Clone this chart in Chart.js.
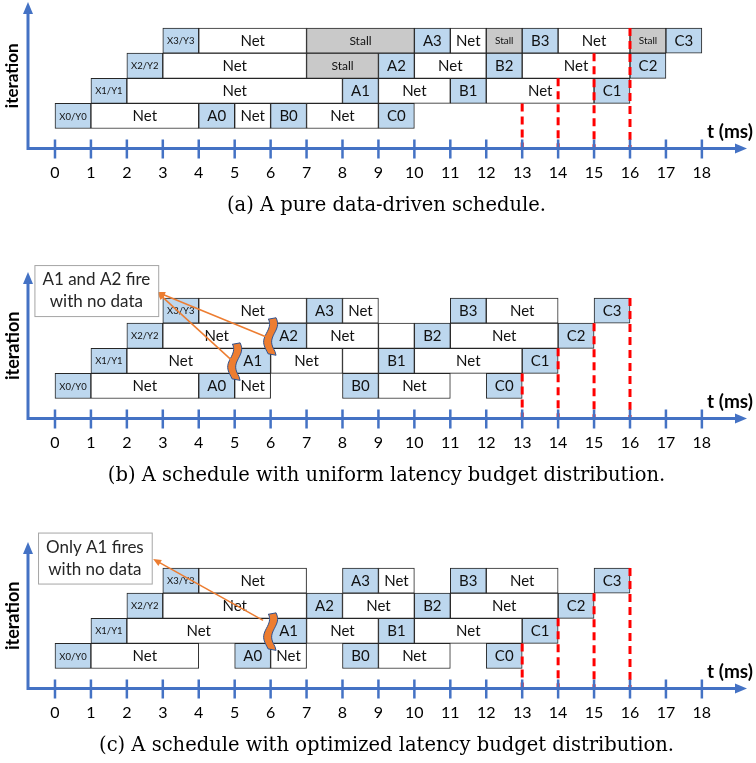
<!DOCTYPE html>
<html>
<head>
<meta charset="utf-8">
<script src="https://cdn.jsdelivr.net/npm/chart.js@4.4.1/dist/chart.umd.min.js"></script>
<style>
  body { margin: 0; background: #fff; }
  canvas { display: block; }
</style>
</head>
<body>
<canvas id="chartA" width="756" height="240"></canvas>
<canvas id="chartB" width="756" height="270"></canvas>
<canvas id="chartC" width="756" height="253"></canvas>
<script>
const timeTicks = [0, 1, 2, 3, 4, 5, 6, 7, 8, 9, 10, 11, 12, 13, 14, 15, 16, 17, 18];
const iterations = [0, 1, 2, 3];
const deadlineT = [13, 14, 15, 16];
const deadlineFrom = [0.5, 1.5, 2.5, 3.5];

// [iteration, label, start, end, kind]
const scheduleA = [
  [0, 'X0/Y0', 0, 1, 'io'], [0, 'Net', 1, 4, 'net'], [0, 'A0', 4, 5, 'op'], [0, 'Net', 5, 6, 'net'],
  [0, 'B0', 6, 7, 'op'], [0, 'Net', 7, 9, 'net'], [0, 'C0', 9, 10, 'op'],
  [1, 'X1/Y1', 1, 2, 'io'], [1, 'Net', 2, 8, 'net'], [1, 'A1', 8, 9, 'op'], [1, 'Net', 9, 11, 'net'],
  [1, 'B1', 11, 12, 'op'], [1, 'Net', 12, 15, 'net'], [1, 'C1', 15, 16, 'op'],
  [2, 'X2/Y2', 2, 3, 'io'], [2, 'Net', 3, 7, 'net'], [2, 'Stall', 7, 9, 'stall'], [2, 'A2', 9, 10, 'op'],
  [2, 'Net', 10, 12, 'net'], [2, 'B2', 12, 13, 'op'], [2, 'Net', 13, 16, 'net'], [2, 'C2', 16, 17, 'op'],
  [3, 'X3/Y3', 3, 4, 'io'], [3, 'Net', 4, 7, 'net'], [3, 'Stall', 7, 10, 'stall'], [3, 'A3', 10, 11, 'op'],
  [3, 'Net', 11, 12, 'net'], [3, 'Stall', 12, 13, 'stall'], [3, 'B3', 13, 14, 'op'], [3, 'Net', 14, 16, 'net'],
  [3, 'Stall', 16, 17, 'stall'], [3, 'C3', 17, 18, 'op']
];

const scheduleB = [
  [0, 'X0/Y0', 0, 1, 'io'], [0, 'Net', 1, 4, 'net'], [0, 'A0', 4, 5, 'op'], [0, 'Net', 5, 6, 'net'],
  [0, 'B0', 8, 9, 'op'], [0, 'Net', 9, 11, 'net'], [0, 'C0', 12, 13, 'op'],
  [1, 'X1/Y1', 1, 2, 'io'], [1, 'Net', 2, 5, 'net'], [1, 'A1', 5, 6, 'op'], [1, 'Net', 6, 8, 'net'],
  [1, '', 8, 9, 'idle'], [1, 'B1', 9, 10, 'op'], [1, 'Net', 10, 13, 'net'], [1, 'C1', 13, 14, 'op'],
  [2, 'X2/Y2', 2, 3, 'io'], [2, 'Net', 3, 6, 'net'], [2, 'A2', 6, 7, 'op'], [2, 'Net', 7, 9, 'net'],
  [2, '', 9, 10, 'idle'], [2, 'B2', 10, 11, 'op'], [2, 'Net', 11, 14, 'net'], [2, 'C2', 14, 15, 'op'],
  [3, 'X3/Y3', 3, 4, 'io'], [3, 'Net', 4, 7, 'net'], [3, 'A3', 7, 8, 'op'], [3, 'Net', 8, 9, 'net'],
  [3, 'B3', 11, 12, 'op'], [3, 'Net', 12, 14, 'net'], [3, 'C3', 15, 16, 'op']
];

const scheduleC = [
  [0, 'X0/Y0', 0, 1, 'io'], [0, 'Net', 1, 4, 'net'], [0, 'A0', 5, 6, 'op'], [0, 'Net', 6, 7, 'net'],
  [0, 'B0', 8, 9, 'op'], [0, 'Net', 9, 11, 'net'], [0, 'C0', 12, 13, 'op'],
  [1, 'X1/Y1', 1, 2, 'io'], [1, 'Net', 2, 6, 'net'], [1, 'A1', 6, 7, 'op'], [1, 'Net', 7, 9, 'net'],
  [1, 'B1', 9, 10, 'op'], [1, 'Net', 10, 13, 'net'], [1, 'C1', 13, 14, 'op'],
  [2, 'X2/Y2', 2, 3, 'io'], [2, 'Net', 3, 7, 'net'], [2, 'A2', 7, 8, 'op'], [2, 'Net', 8, 10, 'net'],
  [2, 'B2', 10, 11, 'op'], [2, 'Net', 11, 14, 'net'], [2, 'C2', 14, 15, 'op'],
  [3, 'X3/Y3', 3, 4, 'io'], [3, 'Net', 4, 7, 'net'], [3, 'A3', 8, 9, 'op'], [3, 'Net', 9, 10, 'net'],
  [3, 'B3', 11, 12, 'op'], [3, 'Net', 12, 14, 'net'], [3, 'C3', 15, 16, 'op']
];

// break marks [t, iteration], arrows [fromT, fromIter, toT, toIter]
const breaksB = [[5, 1], [6, 2]];
const breaksC = [[6, 1]];
const arrowsB = [[4.92, 1.02, 2.84, 3.74], [5.9, 1.94, 2.84, 3.74]];
const arrowsC = [[5.79, 1.42, 2.73, 3.86]];
const noteB = ['A1 and A2 fire', 'with no data'];
const noteC = ['Only A1 fires', 'with no data'];
const noteAtB = [1.15, 3.8];
const noteAtC = [1.11, 3.9];

const captionA = '(a) A pure data-driven schedule.';
const captionB = '(b) A schedule with uniform latency budget distribution.';
const captionC = '(c) A schedule with optimized latency budget distribution.';

const fills = { io: '#BDD7EE', op: '#BDD7EE', net: '#FFFFFF', stall: '#C9C9C9', idle: '#FFFFFF' };
const axisBlue = '#4472C4';
const orange = '#ED7D31';
const Y_MIN = -1.3, Y_MAX = 4.46;

function drawBreak(ctx, cx, cy) {
  const h = 36, w = 8, n = 16;
  const off = s => 3 * Math.sin(2 * Math.PI * s + 0.5);
  ctx.beginPath();
  for (let i = 0; i <= n; i++) {
    const s = i / n;
    const px = cx - w / 2 + off(s), py = cy - h / 2 + s * h;
    if (i === 0) ctx.moveTo(px, py + 1.5); else ctx.lineTo(px, py);
  }
  for (let i = n; i >= 0; i--) {
    const s = i / n;
    const px = cx + w / 2 + off(s), py = cy - h / 2 + s * h;
    ctx.lineTo(px, i === n ? py + 1.5 : py);
  }
  ctx.closePath();
  ctx.fillStyle = orange;
  ctx.fill();
  ctx.strokeStyle = '#2F528F';
  ctx.lineWidth = 1;
  ctx.stroke();
}

function drawArrow(ctx, x0, y0, x1, y1) {
  const a = Math.atan2(y1 - y0, x1 - x0), L = 8, W = 3.5;
  ctx.strokeStyle = orange;
  ctx.fillStyle = orange;
  ctx.lineWidth = 1.5;
  ctx.beginPath();
  ctx.moveTo(x0, y0);
  ctx.lineTo(x1 - Math.cos(a) * L * 0.8, y1 - Math.sin(a) * L * 0.8);
  ctx.stroke();
  ctx.beginPath();
  ctx.moveTo(x1, y1);
  ctx.lineTo(x1 - Math.cos(a) * L - Math.sin(a) * W, y1 - Math.sin(a) * L + Math.cos(a) * W);
  ctx.lineTo(x1 - Math.cos(a) * L + Math.sin(a) * W, y1 - Math.sin(a) * L - Math.cos(a) * W);
  ctx.closePath();
  ctx.fill();
}

function drawNote(ctx, cx, cy, lines) {
  ctx.font = '17px Lato';
  const w = Math.max(...lines.map(l => ctx.measureText(l).width)) + 16;
  const lh = 22, h = lines.length * lh + 7;
  ctx.fillStyle = '#fff';
  ctx.fillRect(cx - w / 2, cy - h / 2, w, h);
  ctx.strokeStyle = '#A5A5A5';
  ctx.lineWidth = 1;
  ctx.strokeRect(cx - w / 2 + 0.5, cy - h / 2 + 0.5, w, h);
  ctx.fillStyle = '#262626';
  ctx.textAlign = 'center';
  ctx.textBaseline = 'middle';
  lines.forEach((l, i) => ctx.fillText(l, cx, cy - (lines.length - 1) * lh / 2 + i * lh));
}

function overlay(extra) {
  return {
    id: 'overlay',
    afterDatasetsDraw(chart) {
      const ctx = chart.ctx;
      const xs = chart.scales.x, ys = chart.scales.y, area = chart.chartArea;
      const X = v => xs.getPixelForValue(v), Y = v => ys.getPixelForValue(v);
      ctx.save();

      // box labels
      const meta = chart.getDatasetMeta(0);
      const data = chart.data.datasets[0].data;
      ctx.textAlign = 'center';
      ctx.textBaseline = 'middle';
      ctx.fillStyle = '#111';
      meta.data.forEach((bar, i) => {
        const d = data[i];
        if (!d.label) return;
        const w = Math.abs(bar.x - bar.base);
        let size = 15;
        if (d.kind === 'io') size = 9.5;
        if (d.kind === 'stall') size = w > 40 ? 12 : 10;
        ctx.font = size + 'px Lato';
        ctx.fillText(d.label, (bar.x + bar.base) / 2, bar.y + 0.5);
      });

      // axes
      const ax = area.left, ay = area.bottom;
      ctx.strokeStyle = axisBlue;
      ctx.fillStyle = axisBlue;
      ctx.lineWidth = 3;
      ctx.beginPath();
      ctx.moveTo(ax, ay + 1.5);
      ctx.lineTo(ax, area.top + 8);
      ctx.moveTo(ax - 1.5, ay);
      ctx.lineTo(area.right - 8, ay);
      ctx.stroke();
      ctx.beginPath();
      ctx.moveTo(ax, area.top - 2);
      ctx.lineTo(ax - 5, area.top + 10);
      ctx.lineTo(ax + 5, area.top + 10);
      ctx.closePath();
      ctx.fill();
      ctx.beginPath();
      ctx.moveTo(area.right + 2, ay);
      ctx.lineTo(area.right - 10, ay - 5);
      ctx.lineTo(area.right - 10, ay + 5);
      ctx.closePath();
      ctx.fill();
      ctx.lineWidth = 2.5;
      ctx.beginPath();
      xs.ticks.forEach(t => {
        const px = X(t.value);
        ctx.moveTo(px, ay - 9);
        ctx.lineTo(px, ay + 10);
      });
      ctx.stroke();

      // axis titles
      ctx.fillStyle = '#000';
      ctx.font = 'bold 19px Lato';
      ctx.textAlign = 'right';
      ctx.fillText('t (ms)', chart.width - 3, ay - 17);
      ctx.save();
      ctx.translate(13, Y(1.6));
      ctx.rotate(-Math.PI / 2);
      ctx.textAlign = 'center';
      ctx.font = 'bold ' + extra.labelSize + 'px Lato';
      ctx.fillText('iteration', 0, 0);
      ctx.restore();

      // annotations
      extra.breaks.forEach(([t, it]) => drawBreak(ctx, X(t), Y(it)));
      extra.arrows.forEach(([t0, i0, t1, i1]) => drawArrow(ctx, X(t0), Y(i0), X(t1), Y(i1)));
      if (extra.note) drawNote(ctx, X(extra.noteAt[0]), Y(extra.noteAt[1]), extra.note);
      ctx.restore();
    }
  };
}

function makeChart(id, schedule, caption, padTop, padBottom, extra) {
  const boxes = schedule.map(([it, label, s, e, kind]) => ({ x: [s, e], y: it, label, kind }));
  const deadlines = deadlineT.map((t, i) => ({
    type: 'line',
    data: [{ x: t, y: deadlineFrom[i] }, { x: t, y: Y_MIN }],
    borderColor: '#FF0000',
    borderWidth: 3,
    borderDash: [8, 5],
    pointRadius: 0,
    fill: false,
    order: 0
  }));
  return new Chart(document.getElementById(id), {
    type: 'bar',
    data: {
      datasets: [{
        type: 'bar',
        data: boxes,
        backgroundColor: c => fills[c.raw ? c.raw.kind : 'net'],
        borderColor: '#262626',
        borderWidth: 1,
        borderSkipped: false,
        barPercentage: 1,
        categoryPercentage: 1,
        order: 1
      }, ...deadlines]
    },
    options: {
      indexAxis: 'y',
      responsive: false,
      animation: false,
      events: [],
      layout: { padding: { top: padTop, bottom: padBottom, left: 28, right: 11 } },
      scales: {
        x: {
          type: 'linear', position: 'bottom', min: -0.751, max: 19.2, offset: false,
          grid: { display: false, drawTicks: false },
          border: { display: false },
          ticks: { font: { family: 'Lato', size: 16 }, color: '#000', padding: 15, autoSkip: false, maxRotation: 0 },
          afterBuildTicks: s => { s.ticks = timeTicks.map(v => ({ value: v })); },
          afterFit: s => { s.height = 46; }
        },
        y: {
          type: 'linear', min: Y_MIN, max: Y_MAX, display: false, offset: false,
          afterBuildTicks: s => { s.ticks = iterations.map(v => ({ value: v })); }
        }
      },
      plugins: {
        legend: { display: false },
        tooltip: { enabled: false },
        title: {
          display: true, position: 'bottom', text: caption, color: '#000',
          font: { family: 'DejaVu Serif', size: 19.5, weight: 'normal' },
          padding: { top: 0, bottom: 0 }
        }
      }
    },
    plugins: [overlay(extra)]
  });
}

makeChart('chartA', scheduleA, captionA, 4, 22, { breaks: [], arrows: [], labelSize: 17 });
makeChart('chartB', scheduleB, captionB, 34, 22, { breaks: breaksB, arrows: arrowsB, note: noteB, noteAt: noteAtB, labelSize: 18 });
makeChart('chartC', scheduleC, captionC, 34, 5, { breaks: breaksC, arrows: arrowsC, note: noteC, noteAt: noteAtC, labelSize: 18 });
</script>
</body>
</html>
